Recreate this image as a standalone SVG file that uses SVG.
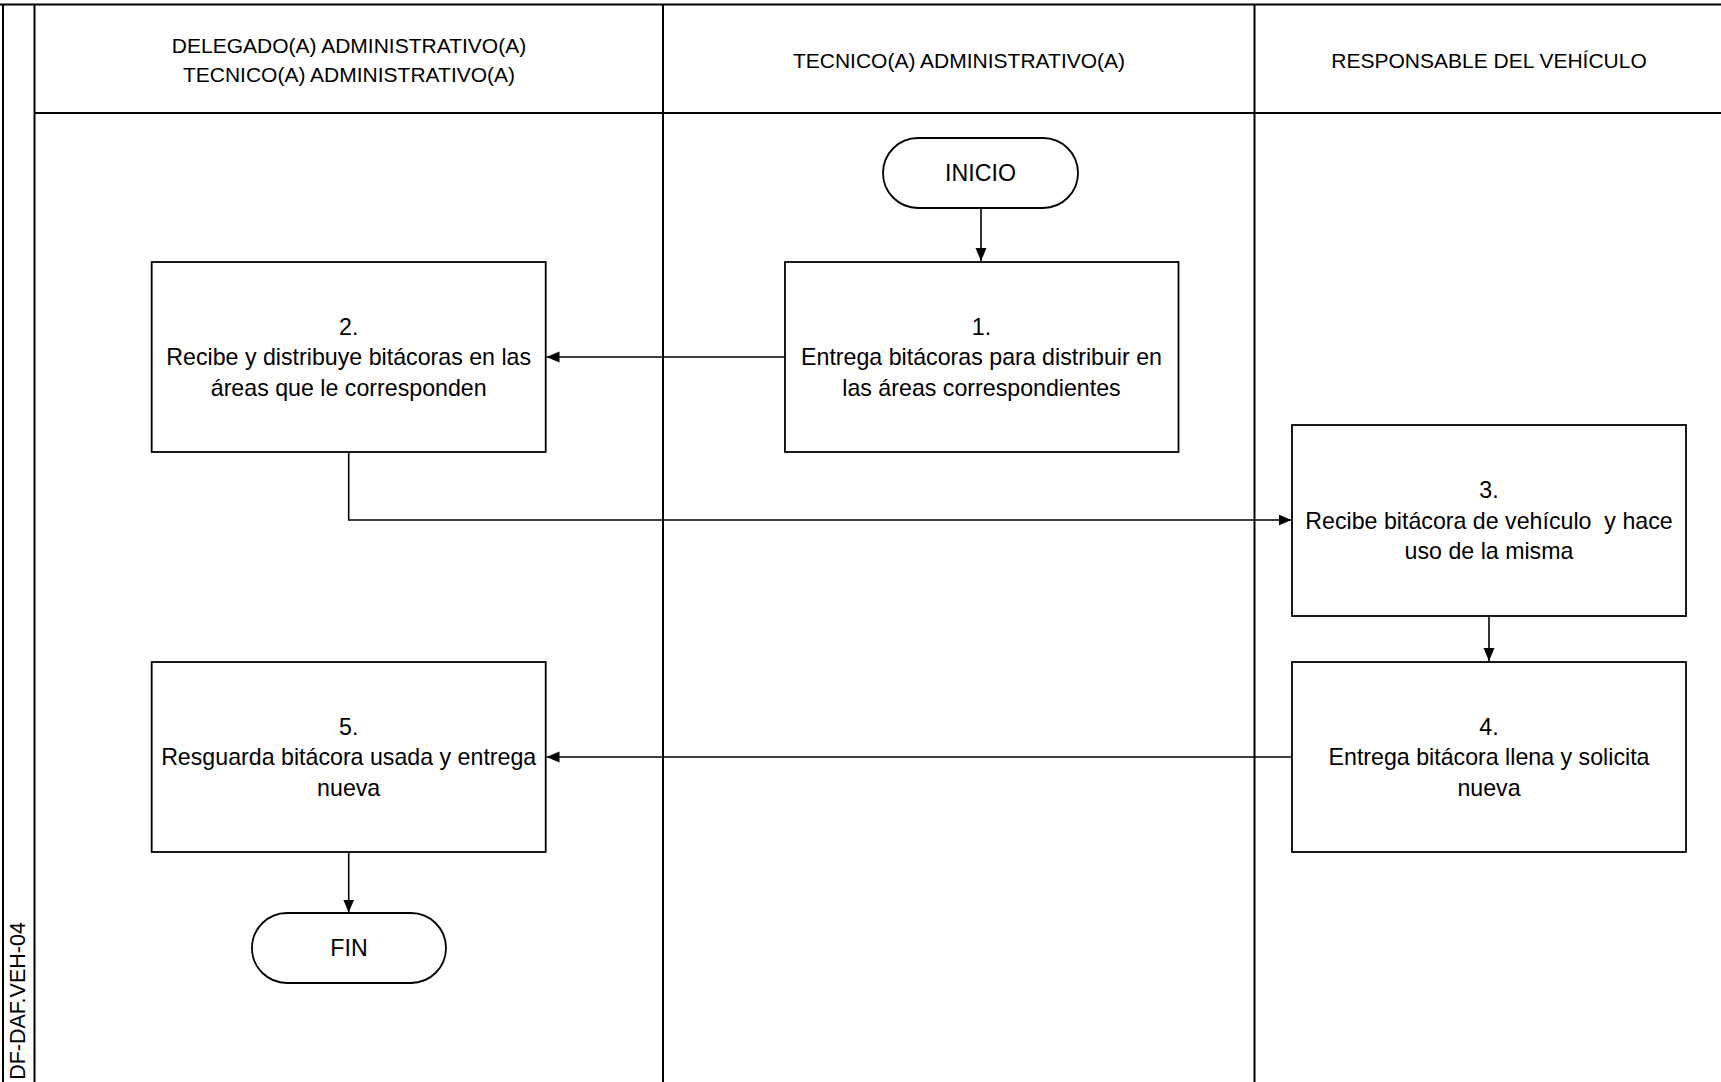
<svg xmlns="http://www.w3.org/2000/svg" width="1721" height="1082" viewBox="0 0 1721 1082">
<style>
  .frame { stroke: #000; stroke-width: 2; fill: none; }
  .box { fill: #fff; stroke: #000; stroke-width: 1.8; }
  .conn { fill: none; stroke: #000; stroke-width: 1.6; marker-end: url(#arrow); }
  .hdr { font-family: "Liberation Sans", Arial, sans-serif; font-size: 21px; fill: #000; text-anchor: middle; dominant-baseline: central; }
  .lbl { font-family: "Liberation Sans", Arial, sans-serif; font-size: 23.2px; fill: #000; text-anchor: middle; dominant-baseline: central; }
</style>
<defs>
  <marker id="arrow" markerUnits="userSpaceOnUse" markerWidth="14" markerHeight="12" refX="13" refY="5.5" orient="auto">
    <path d="M0,0 L13,5.5 L0,11 z" fill="#000"/>
  </marker>
</defs>
<rect x="0" y="0" width="1721" height="1082" fill="#fff"/>

<g id="swimlanes">
  <line class="frame" x1="0" y1="4.5" x2="1721" y2="4.5"/>
  <line class="frame" x1="3" y1="4.5" x2="3" y2="1082"/>
  <line class="frame" x1="34.5" y1="4.5" x2="34.5" y2="1082"/>
  <line class="frame" x1="34.5" y1="113" x2="1721" y2="113"/>
  <line class="frame" x1="663" y1="4.5" x2="663" y2="1082"/>
  <line class="frame" x1="1254.5" y1="4.5" x2="1254.5" y2="1082"/>
  <text class="hdr" x="349" y="45">DELEGADO(A) ADMINISTRATIVO(A)</text>
  <text class="hdr" x="349" y="74">TECNICO(A) ADMINISTRATIVO(A)</text>
  <text class="hdr" x="959" y="60">TECNICO(A) ADMINISTRATIVO(A)</text>
  <text class="hdr" x="1489" y="60">RESPONSABLE DEL VEHÍCULO</text>
  <text class="hdr" x="0" y="0" transform="translate(18,1001) rotate(-90)" style="font-size:21.5px">DF-DAF.VEH-04</text>
</g>

<g id="connectors">
  <line class="conn" x1="981" y1="208" x2="981" y2="261"/>
  <line class="conn" x1="785" y1="357" x2="546.5" y2="357"/>
  <polyline class="conn" points="348.7,452 348.7,520 1291.5,520"/>
  <line class="conn" x1="1489" y1="616" x2="1489" y2="661"/>
  <line class="conn" x1="1292" y1="757" x2="546.5" y2="757"/>
  <line class="conn" x1="348.7" y1="852" x2="348.7" y2="912.5"/>
</g>

<g id="inicio">
  <rect class="box" x="883" y="138" width="195" height="70" rx="35" ry="35"/>
  <text class="lbl" x="980.5" y="173">INICIO</text>
</g>

<g id="step1">
  <rect class="box" x="785" y="262" width="393.5" height="190"/>
  <text class="lbl" x="981.5" y="326.5">1.</text>
  <text class="lbl" x="981.5" y="357">Entrega bitácoras para distribuir en</text>
  <text class="lbl" x="981.5" y="387.5">las áreas correspondientes</text>
</g>

<g id="step2">
  <rect class="box" x="151.7" y="262" width="394" height="190"/>
  <text class="lbl" x="348.7" y="326.5">2.</text>
  <text class="lbl" x="348.7" y="357">Recibe y distribuye bitácoras en las</text>
  <text class="lbl" x="348.7" y="387.5">áreas que le corresponden</text>
</g>

<g id="step3">
  <rect class="box" x="1292" y="425" width="394" height="191"/>
  <text class="lbl" x="1489" y="490">3.</text>
  <text class="lbl" x="1489" y="520.5">Recibe bitácora de vehículo&#160; y hace</text>
  <text class="lbl" x="1489" y="551">uso de la misma</text>
</g>

<g id="step4">
  <rect class="box" x="1292" y="662" width="394" height="190"/>
  <text class="lbl" x="1489" y="726.5">4.</text>
  <text class="lbl" x="1489" y="757">Entrega bitácora llena y solicita</text>
  <text class="lbl" x="1489" y="787.5">nueva</text>
</g>

<g id="step5">
  <rect class="box" x="151.7" y="662" width="394" height="190"/>
  <text class="lbl" x="348.7" y="726.5">5.</text>
  <text class="lbl" x="348.7" y="757">Resguarda bitácora usada y entrega</text>
  <text class="lbl" x="348.7" y="787.5">nueva</text>
</g>

<g id="fin">
  <rect class="box" x="252" y="913" width="194" height="70" rx="35" ry="35"/>
  <text class="lbl" x="349" y="948">FIN</text>
</g>
</svg>
